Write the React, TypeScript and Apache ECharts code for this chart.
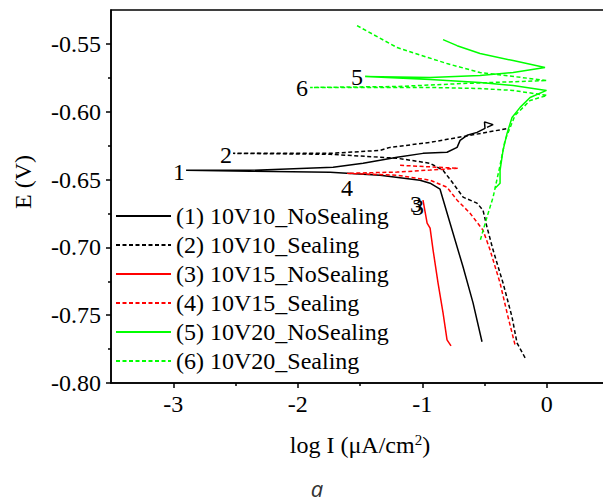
import React, { useEffect, useRef } from "react";
import * as echarts from "echarts";

// log I (μA/cm²), E (V)
const curve1: [number, number][] = [
  [-0.52, -0.7696], [-0.592, -0.7409], [-0.672, -0.7145], [-0.777, -0.6821], [-0.857, -0.6571],
  [-0.937, -0.6527], [-1.018, -0.6505], [-1.339, -0.6468], [-1.74, -0.6446], [-2.383, -0.6439],
  [-2.897, -0.6432], [-2.383, -0.6432], [-1.716, -0.641], [-1.475, -0.638], [-1.202, -0.6336],
  [-0.994, -0.6307], [-0.801, -0.6299], [-0.72, -0.6263], [-0.696, -0.6211], [-0.64, -0.6174],
  [-0.56, -0.6152], [-0.496, -0.6123], [-0.5, -0.6075], [-0.431, -0.6095], [-0.48, -0.6115],
];
const curve2: [number, number][] = [
  [-0.174, -0.7814], [-0.239, -0.7704], [-0.279, -0.7513], [-0.351, -0.7263], [-0.431, -0.702],
  [-0.48, -0.6851], [-0.512, -0.6726], [-0.56, -0.6674], [-0.672, -0.663], [-0.753, -0.6527],
  [-0.833, -0.6432], [-0.937, -0.638], [-1.202, -0.6343], [-1.74, -0.6314], [-2.52, -0.6307],
  [-1.74, -0.6307], [-1.339, -0.6285], [-1.259, -0.6263], [-0.937, -0.6226], [-0.616, -0.6174],
  [-0.311, -0.6123],
];
const curve3: [number, number][] = [
  [-0.994, -0.6652], [-0.961, -0.6821], [-0.937, -0.6858], [-0.913, -0.702], [-0.873, -0.7263],
  [-0.833, -0.7483], [-0.801, -0.7682], [-0.769, -0.7726],
];
const curve4: [number, number][] = [
  [-1.178, -0.6395], [-0.712, -0.6417], [-0.937, -0.643], [-1.202, -0.6445], [-1.604, -0.6454],
  [-1.202, -0.6468], [-0.937, -0.6505], [-0.801, -0.6557], [-0.72, -0.6652], [-0.616, -0.6748],
  [-0.512, -0.6873], [-0.455, -0.702], [-0.375, -0.7263], [-0.311, -0.7513], [-0.255, -0.7718],
];
const curve5: [number, number][] = [
  [-0.833, -0.5468], [-0.72, -0.5513], [-0.536, -0.5571], [-0.27, -0.5623], [-0.014, -0.5674],
  [-0.27, -0.5711], [-0.536, -0.5733], [-0.937, -0.5748], [-1.459, -0.574], [-0.937, -0.5763],
  [-0.536, -0.5785], [-0.27, -0.5807], [-0.002, -0.5843], [-0.134, -0.5895], [-0.214, -0.5968],
  [-0.279, -0.6042], [-0.319, -0.616], [-0.351, -0.6285], [-0.375, -0.6432], [-0.375, -0.6527],
  [-0.415, -0.6564],
];
const curve6: [number, number][] = [
  [-1.524, -0.5365], [-1.202, -0.5527], [-0.801, -0.5645], [-0.536, -0.5711], [0.002, -0.577],
  [-0.672, -0.5792], [-1.202, -0.5814], [-1.901, -0.5821], [-0.937, -0.5821], [-0.536, -0.5829],
  [-0.27, -0.5843], [0.002, -0.588], [-0.134, -0.5917], [-0.255, -0.6027], [-0.335, -0.6211],
  [-0.375, -0.6395], [-0.431, -0.663], [-0.48, -0.6777], [-0.536, -0.6954],
];

const seriesNames = [
  "(1) 10V10_NoSealing",
  "(2) 10V10_Sealing",
  "(3) 10V15_NoSealing",
  "(4) 10V15_Sealing",
  "(5) 10V20_NoSealing",
  "(6) 10V20_Sealing",
];
const seriesData = [curve1, curve2, curve3, curve4, curve5, curve6];
const seriesColors = ["#000000", "#000000", "#ff0000", "#ff0000", "#00ff00", "#00ff00"];
const seriesDashed = [false, true, false, true, false, true];

const xMajorTicks = [-3, -2, -1, 0];
const xMinorTicks = [-2.5, -1.5, -0.5];
const yMajorTicks = [-0.8, -0.75, -0.7, -0.65, -0.6, -0.55];
const yMinorTicks = [-0.775, -0.725, -0.675, -0.625, -0.575];

const curveLabels = [
  { text: "1", x: 179, y: 172 },
  { text: "2", x: 226, y: 155 },
  { text: "3", x: 416, y: 204 },
  { text: "3", x: 418, y: 207 },
  { text: "4", x: 347, y: 188 },
  { text: "5", x: 357, y: 77 },
  { text: "6", x: 302, y: 88 },
];

const SERIF = "'Liberation Serif', 'Times New Roman', serif";

export default function App() {
  const ref = useRef<HTMLDivElement>(null);
  useEffect(() => {
    if (!ref.current) return;
    const chart = echarts.init(ref.current, undefined, { renderer: "svg" });
    const axisLine = { show: true, onZero: false, lineStyle: { color: "#000", width: 1.5 } };
    const xBase = { type: "value", min: -3.5, max: 0.5, interval: 0.5, position: "bottom", splitLine: { show: false } };
    const yBase = { type: "value", min: -0.8, max: -0.525, interval: 0.025, position: "left", splitLine: { show: false } };
    chart.setOption({
      animation: false,
      backgroundColor: "#fff",
      grid: { left: 111, top: 10, right: 0, bottom: 114, show: true, borderColor: "#000", borderWidth: 1.5, backgroundColor: "transparent" },
      xAxis: [
        {
          ...xBase,
          axisLine,
          axisTick: { show: true, customValues: xMajorTicks, length: 5, lineStyle: { color: "#000", width: 1.5 } },
          axisLabel: {
            show: true, customValues: xMajorTicks, margin: 9,
            fontFamily: SERIF, fontSize: 24, color: "#000",
            formatter: (v: number) => String(Math.round(v)),
          },
        },
        {
          ...xBase,
          axisLine: { show: false, onZero: false },
          axisTick: { show: true, customValues: xMinorTicks, length: 3, lineStyle: { color: "#000", width: 1.5 } },
          axisLabel: { show: false },
        },
      ],
      yAxis: [
        {
          ...yBase,
          axisLine,
          axisTick: { show: true, customValues: yMajorTicks, length: 5, lineStyle: { color: "#000", width: 1.5 } },
          axisLabel: {
            show: true, customValues: yMajorTicks, margin: 10,
            fontFamily: SERIF, fontSize: 24, color: "#000",
            formatter: (v: number) => v.toFixed(2),
          },
        },
        {
          ...yBase,
          axisLine: { show: false, onZero: false },
          axisTick: { show: true, customValues: yMinorTicks, length: 3, lineStyle: { color: "#000", width: 1.5 } },
          axisLabel: { show: false },
        },
      ],
      legend: {
        orient: "vertical",
        left: 115,
        top: 204,
        itemWidth: 55,
        itemHeight: 14,
        itemGap: 5,
        padding: 0,
        itemStyle: { opacity: 0 },
        textStyle: { fontFamily: SERIF, fontSize: 24, color: "#000", lineHeight: 24 },
        data: seriesNames,
      },
      series: seriesNames.map((name, i) => ({
        name,
        type: "line",
        xAxisIndex: 0,
        yAxisIndex: 0,
        data: seriesData[i],
        showSymbol: false,
        symbol: "none",
        smooth: false,
        lineStyle: { color: seriesColors[i], width: 1.5, type: seriesDashed[i] ? [4, 2.5] : "solid" },
        itemStyle: { color: seriesColors[i] },
      })),
      graphic: [
        ...curveLabels.map((l) => ({
          type: "text",
          x: l.x,
          y: l.y,
          style: { text: l.text, fontFamily: SERIF, fontSize: 24, fill: "#000", align: "center", verticalAlign: "middle" },
        })),
        {
          type: "text",
          x: 23,
          y: 182,
          rotation: Math.PI / 2,
          style: { text: "E (V)", fontFamily: SERIF, fontSize: 24, fill: "#000", align: "center", verticalAlign: "middle" },
        },
        {
          type: "text",
          x: 360,
          y: 445,
          style: {
            text: "{m|log I (μA/cm}{s|2}{m|)}",
            align: "center",
            verticalAlign: "middle",
            rich: {
              m: { fontFamily: SERIF, fontSize: 24, fill: "#000", color: "#000" },
              s: { fontFamily: SERIF, fontSize: 15, fill: "#000", color: "#000", verticalAlign: "top", padding: [0, 0, 10, 0] },
            },
          },
        },
        {
          type: "text",
          x: 317,
          y: 488,
          style: { text: "a", fontFamily: "'Open Sans', sans-serif", fontStyle: "italic", fontSize: 22, fill: "#333", align: "center", verticalAlign: "middle" },
        },
      ],
    });
    return () => chart.dispose();
  }, []);
  return (
    <div style={{ position: "fixed", left: 0, top: 0, width: 603, height: 497, overflow: "hidden" }}>
      <div ref={ref} style={{ width: 609, height: 497 }} />
    </div>
  );
}
